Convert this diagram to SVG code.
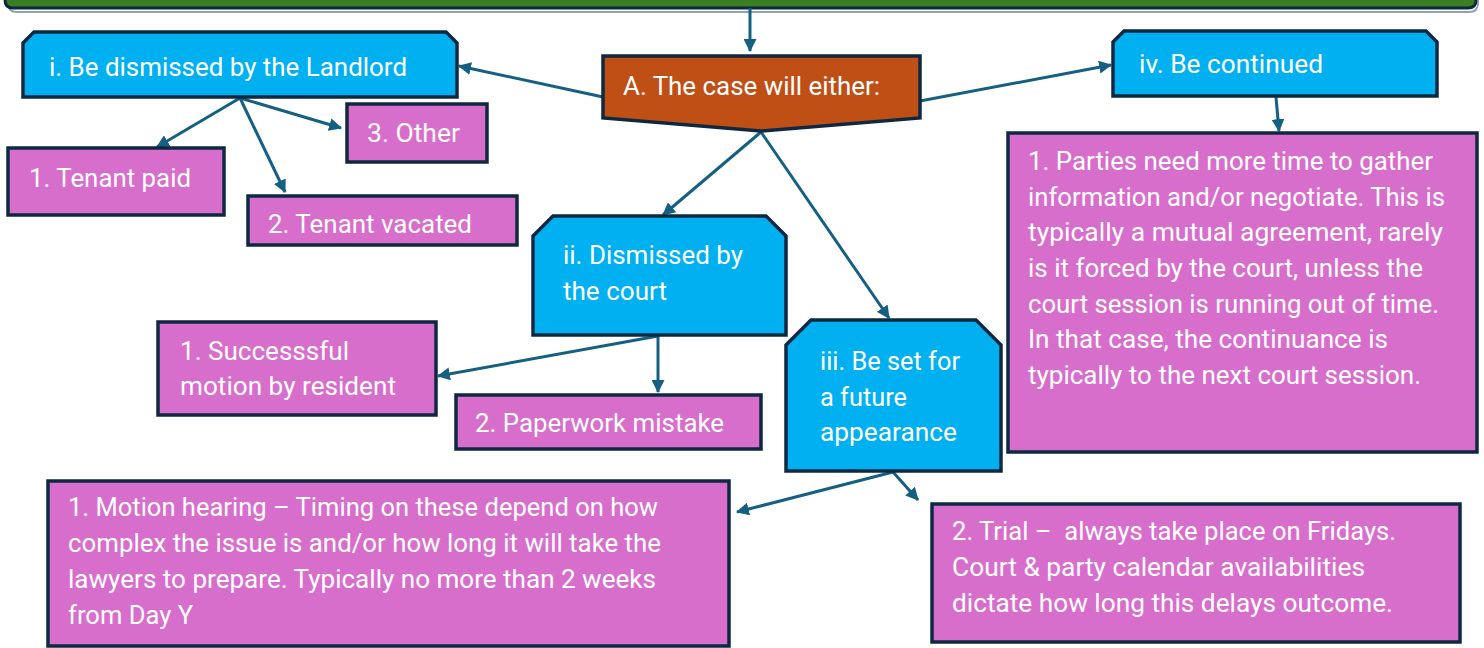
<svg xmlns="http://www.w3.org/2000/svg" width="1484" height="648" viewBox="0 0 1484 648">
<style>
.t{font-family:Roboto,"Liberation Sans",sans-serif;font-size:25px;fill:#ffffff}
.blue{fill:#00B0F0;stroke:#0E2841;stroke-width:3.5;stroke-linejoin:miter}
.pink{fill:#D86ECC;stroke:#0E2841;stroke-width:3.5}
.orange{fill:#C04F15;stroke:#0E2841;stroke-width:3.5}
.c{stroke:#156082;stroke-width:3;fill:none;marker-end:url(#ah)}
</style>
<defs>
<marker id="ah" viewBox="0 0 12 12" refX="11" refY="6" markerWidth="13" markerHeight="13" markerUnits="userSpaceOnUse" orient="auto">
<path d="M0,0 L12,6 L0,12 z" fill="#156082"/>
</marker>
</defs>
<rect width="1484" height="648" fill="#ffffff"/>
<g id="header">
<path d="M7,-20 V1 Q7,10 16,10 H1468 Q1477,10 1477,1 V-20" fill="none" stroke="#8FA3B0" stroke-width="2" transform="translate(1,2)"/>
<path d="M5,-20 V0 Q5,8 13,8 H1468 Q1476,8 1476,0 V-20 Z" fill="#3B7D23" stroke="#0E2841" stroke-width="3"/>
</g>
<g id="connectors">
<line class="c" x1="750" y1="8" x2="750" y2="51"/>
<line class="c" x1="603" y1="97" x2="459" y2="66"/>
<line class="c" x1="920" y1="101" x2="1111" y2="65"/>
<line class="c" x1="761" y1="132" x2="663" y2="215"/>
<line class="c" x1="761" y1="132" x2="889" y2="318"/>
<line class="c" x1="240" y1="98" x2="157" y2="147"/>
<line class="c" x1="240" y1="98" x2="285" y2="192"/>
<line class="c" x1="240" y1="98" x2="341" y2="128"/>
<line class="c" x1="1276" y1="97" x2="1279" y2="131"/>
<line class="c" x1="658" y1="336" x2="438" y2="376"/>
<line class="c" x1="658" y1="336" x2="658" y2="392"/>
<line class="c" x1="893" y1="472" x2="737" y2="512"/>
<line class="c" x1="893" y1="472" x2="918" y2="500"/>
</g>
<g id="nodeA">
<path class="orange" d="M603,56 H920 V118 L761,131 L603,118 Z"/>
<text class="t" x="623" y="95" textLength="257" lengthAdjust="spacingAndGlyphs">A. The case will either:</text>
</g>
<g id="nodeI">
<path class="blue" d="M34,32 H446 L457,43 V97 H23 V43 Z"/>
<text class="t" x="49" y="76" textLength="358" lengthAdjust="spacingAndGlyphs">i. Be dismissed by the Landlord</text>
</g>
<g id="nodeIV">
<path class="blue" d="M1124,31 H1426 L1437,42 V96 H1113 V42 Z"/>
<text class="t" x="1139" y="73" textLength="184" lengthAdjust="spacingAndGlyphs">iv. Be continued</text>
</g>
<g id="nodeII">
<path class="blue" d="M553,216 H766 L786,236 V335 H533 V236 Z"/>
<text class="t" x="563" y="264" textLength="180" lengthAdjust="spacingAndGlyphs">ii. Dismissed by</text>
<text class="t" x="563" y="300" textLength="104" lengthAdjust="spacingAndGlyphs">the court</text>
</g>
<g id="nodeIII">
<path class="blue" d="M811,320 H976 L1001,345 V471 H786 V345 Z"/>
<text class="t" x="820" y="370" textLength="140" lengthAdjust="spacingAndGlyphs">iii. Be set for</text>
<text class="t" x="820" y="406" textLength="87" lengthAdjust="spacingAndGlyphs">a future</text>
<text class="t" x="820" y="441" textLength="137" lengthAdjust="spacingAndGlyphs">appearance</text>
</g>
<g id="tenantPaid">
<rect class="pink" x="8" y="148" width="216" height="67"/>
<text class="t" x="29" y="187" textLength="162" lengthAdjust="spacingAndGlyphs">1. Tenant paid</text>
</g>
<g id="other">
<rect class="pink" x="347" y="104" width="140" height="58"/>
<text class="t" x="367" y="142" textLength="93" lengthAdjust="spacingAndGlyphs">3. Other</text>
</g>
<g id="tenantVacated">
<rect class="pink" x="248" y="196" width="269" height="49"/>
<text class="t" x="268" y="233" textLength="204" lengthAdjust="spacingAndGlyphs">2. Tenant vacated</text>
</g>
<g id="successful">
<rect class="pink" x="158" y="322" width="278" height="93"/>
<text class="t" x="180" y="360" textLength="169" lengthAdjust="spacingAndGlyphs">1. Successsful</text>
<text class="t" x="180" y="395" textLength="216" lengthAdjust="spacingAndGlyphs">motion by resident</text>
</g>
<g id="paperwork">
<rect class="pink" x="456" y="395" width="305" height="54"/>
<text class="t" x="475" y="432" textLength="249" lengthAdjust="spacingAndGlyphs">2. Paperwork mistake</text>
</g>
<g id="parties">
<rect class="pink" x="1008" y="133" width="469" height="319"/>
<text class="t" x="1028" y="170" textLength="405" lengthAdjust="spacingAndGlyphs">1. Parties need more time to gather</text>
<text class="t" x="1028" y="206" textLength="417" lengthAdjust="spacingAndGlyphs">information and/or negotiate. This is</text>
<text class="t" x="1028" y="241" textLength="415" lengthAdjust="spacingAndGlyphs">typically a mutual agreement, rarely</text>
<text class="t" x="1028" y="277" textLength="395" lengthAdjust="spacingAndGlyphs">is it forced by the court, unless the</text>
<text class="t" x="1028" y="313" textLength="411" lengthAdjust="spacingAndGlyphs">court session is running out of time.</text>
<text class="t" x="1028" y="348" textLength="360" lengthAdjust="spacingAndGlyphs">In that case, the continuance is</text>
<text class="t" x="1028" y="384" textLength="393" lengthAdjust="spacingAndGlyphs">typically to the next court session.</text>
</g>
<g id="motion">
<rect class="pink" x="48" y="481" width="681" height="165"/>
<text class="t" x="68" y="516" textLength="590" lengthAdjust="spacingAndGlyphs">1. Motion hearing – Timing on these depend on how</text>
<text class="t" x="68" y="552" textLength="593" lengthAdjust="spacingAndGlyphs">complex the issue is and/or how long it will take the</text>
<text class="t" x="68" y="588" textLength="588" lengthAdjust="spacingAndGlyphs">lawyers to prepare. Typically no more than 2 weeks</text>
<text class="t" x="68" y="624" textLength="125" lengthAdjust="spacingAndGlyphs">from Day Y</text>
</g>
<g id="trial">
<rect class="pink" x="932" y="504" width="528" height="138"/>
<text class="t" x="952" y="540" textLength="444" lengthAdjust="spacingAndGlyphs" style="white-space:pre" xml:space="preserve">2. Trial –  always take place on Fridays.</text>
<text class="t" x="952" y="576" textLength="413" lengthAdjust="spacingAndGlyphs">Court &amp; party calendar availabilities</text>
<text class="t" x="952" y="612" textLength="441" lengthAdjust="spacingAndGlyphs">dictate how long this delays outcome.</text>
</g>
</svg>
